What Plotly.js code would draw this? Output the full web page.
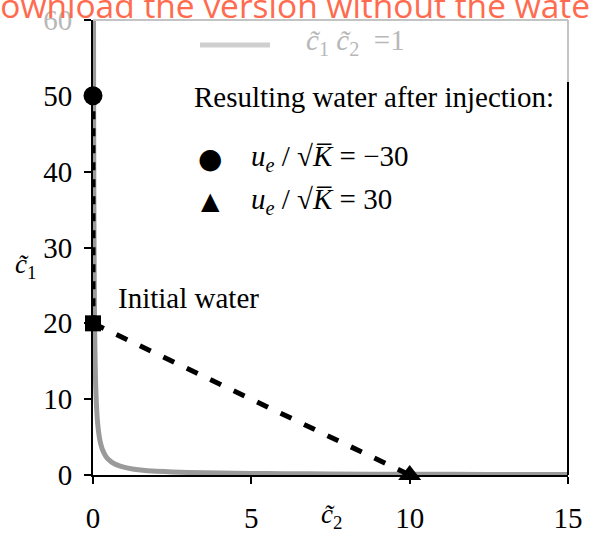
<!DOCTYPE html>
<html>
<head>
<meta charset="utf-8">
<script src="https://cdn.plot.ly/plotly-3.0.1.min.js"></script>
<style>html,body{margin:0;padding:0;background:#fff;}#chart{width:590px;height:533px;}</style>
</head>
<body>
<div id="chart"></div>
<script>
// ---- data ----
const curveC2 = [0.0167, 0.02, 0.025, 0.03, 0.04, 0.05, 0.06, 0.08, 0.1, 0.125, 0.15, 0.2, 0.25, 0.3, 0.4, 0.5, 0.6, 0.75, 1, 1.25, 1.5, 2, 2.5, 3, 4, 5, 6, 7.5, 10, 12.5, 15];
const curveC1 = [60, 50, 40, 33.3, 25, 20, 16.7, 12.5, 10, 8, 6.67, 5, 4, 3.33, 2.5, 2, 1.67, 1.33, 1, 0.8, 0.67, 0.5, 0.4, 0.33, 0.25, 0.2, 0.17, 0.13, 0.1, 0.08, 0.067];
const negPathC2 = [0, 0];      // u_e/sqrt(K) = -30 path
const negPathC1 = [20, 50];
const posPathC2 = [0, 10];     // u_e/sqrt(K) = 30 path
const posPathC1 = [20, 0];
const initialC2 = [0];
const initialC1 = [20];
const negResultC2 = [0];
const negResultC1 = [50];
const posResultC2 = [10];
const posResultC1 = [0];
const xTicks = [0, 5, 10, 15];
const yTicks = [0, 10, 20, 30, 40, 50, 60];
const yTickText = ['0', '10', '20', '30', '40', '50', '<span style="color:#b8b8b8">60</span>'];

const serif = 'Liberation Serif, Times New Roman, serif';

const traces = [
  {x: curveC2, y: curveC1, mode: 'lines', line: {color: '#9a9a9a', width: 5, shape: 'spline', smoothing: 0.6}, hoverinfo: 'skip', cliponaxis: true},
  {x: negPathC2, y: negPathC1, mode: 'lines', line: {color: '#000', width: 5, dash: '8px,9px'}, cliponaxis: false},
  {x: posPathC2, y: posPathC1, mode: 'lines', line: {color: '#000', width: 5, dash: '12px,14px'}, cliponaxis: false},
  {x: initialC2, y: initialC1, mode: 'markers', marker: {symbol: 'square', size: 16, color: '#000'}, cliponaxis: false},
  {x: negResultC2, y: negResultC1, mode: 'markers', marker: {symbol: 'circle', size: 19, color: '#000'}, cliponaxis: false},
  {x: posResultC2, y: posResultC1, mode: 'markers', marker: {symbol: 'triangle-up', size: 20, color: '#000'}, cliponaxis: false}
];

// pixel helpers for decoration placement (paper coords)
const L = 93, R = 568, T = 20, B = 475;
const px = v => (v - L) / (R - L);
const py = v => (B - v) / (B - T);

const layout = {
  width: 590, height: 533,
  margin: {l: L, r: 590 - R, t: T, b: 533 - B},
  paper_bgcolor: '#fff', plot_bgcolor: '#fff',
  showlegend: false,
  font: {family: serif, size: 29, color: '#000'},
  xaxis: {
    range: [0, 15], tickvals: xTicks, ticktext: xTicks.map(String),
    showgrid: false, zeroline: false, showline: true, linecolor: '#000', linewidth: 2,
    ticks: 'outside', ticklen: 7, tickwidth: 2, tickcolor: '#000',
    tickfont: {family: serif, size: 29, color: '#000'}, ticklabelstandoff: 9
  },
  yaxis: {
    range: [0, 60], tickvals: yTicks, ticktext: yTickText,
    showgrid: false, zeroline: false, showline: true, linecolor: '#000', linewidth: 2,
    ticks: 'outside', ticklen: 7, tickwidth: 2, tickcolor: '#000',
    tickfont: {family: serif, size: 29, color: '#000'}, ticklabelstandoff: 6
  },
  shapes: [
    {type: 'line', xref: 'paper', yref: 'paper', x0: 0, x1: 1, y0: 1, y1: 1, line: {color: '#c4c4c4', width: 2}},
    {type: 'line', xref: 'paper', yref: 'paper', x0: 1, x1: 1, y0: 1, y1: py(82), line: {color: '#c4c4c4', width: 2}},
    {type: 'line', xref: 'paper', yref: 'paper', x0: 1, x1: 1, y0: py(82), y1: 0, line: {color: '#000', width: 2}},
    {type: 'line', xref: 'paper', yref: 'paper', x0: px(200), x1: px(270), y0: py(45), y1: py(45), line: {color: '#cfcfcf', width: 5}}
  ],
  annotations: [
    {xref: 'paper', yref: 'paper', x: px(304), y: py(42), xanchor: 'left', yanchor: 'middle', showarrow: false,
     text: '<i>c̃</i><sub>1</sub>&nbsp;<i>c̃</i><sub>2</sub>&nbsp;&nbsp;=1', font: {family: serif, size: 29, color: '#b8b8b8'}},
    {xref: 'paper', yref: 'paper', x: px(192), y: py(97), xanchor: 'left', yanchor: 'middle', showarrow: false,
     text: 'Resulting water after injection:', font: {family: serif, size: 29, color: '#000'}},
    {xref: 'paper', yref: 'paper', x: px(210), y: py(158), xanchor: 'center', yanchor: 'middle', showarrow: false,
     text: '●', font: {family: 'DejaVu Sans', size: 28, color: '#000'}},
    {xref: 'paper', yref: 'paper', x: px(249), y: py(158), xanchor: 'left', yanchor: 'middle', showarrow: false,
     text: '<i>u</i><sub><i>e</i></sub> / √<i>K̅</i> = −30', font: {family: serif, size: 29, color: '#000'}},
    {xref: 'paper', yref: 'paper', x: px(210), y: py(201), xanchor: 'center', yanchor: 'middle', showarrow: false,
     text: '▲', font: {family: 'DejaVu Sans', size: 24, color: '#000'}},
    {xref: 'paper', yref: 'paper', x: px(249), y: py(201), xanchor: 'left', yanchor: 'middle', showarrow: false,
     text: '<i>u</i><sub><i>e</i></sub> / √<i>K̅</i> = 30', font: {family: serif, size: 29, color: '#000'}},
    {xref: 'paper', yref: 'paper', x: px(116), y: py(298), xanchor: 'left', yanchor: 'middle', showarrow: false,
     text: 'Initial water', font: {family: serif, size: 29, color: '#000'}},
    {xref: 'paper', yref: 'paper', x: px(25), y: py(266), xanchor: 'center', yanchor: 'middle', showarrow: false,
     text: '<i>c̃</i><sub>1</sub>', font: {family: serif, size: 27, color: '#000'}},
    {xref: 'paper', yref: 'paper', x: px(331), y: py(516), xanchor: 'center', yanchor: 'middle', showarrow: false,
     text: '<i>c̃</i><sub>2</sub>', font: {family: serif, size: 27, color: '#000'}},
    {xref: 'paper', yref: 'paper', x: px(-26), y: py(30), xanchor: 'left', yanchor: 'bottom', showarrow: false,
     text: 'Download the version without the watermark', font: {family: 'Open Sans', size: 33.5, color: '#ff6b4f'}}
  ]
};

Plotly.newPlot('chart', traces, layout, {staticPlot: true, displayModeBar: false});
</script>
</body>
</html>
